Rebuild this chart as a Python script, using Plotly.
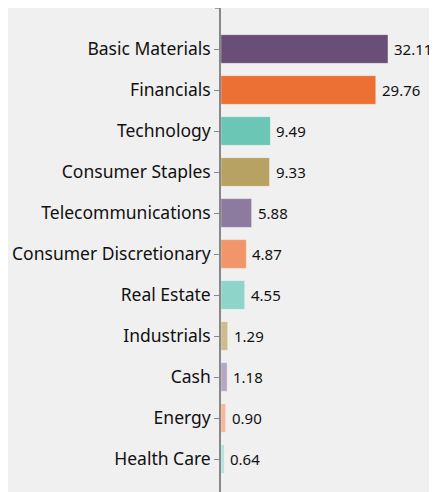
import plotly.graph_objects as go

categories = ["Basic Materials", "Financials", "Technology", "Consumer Staples",
              "Telecommunications", "Consumer Discretionary", "Real Estate",
              "Industrials", "Cash", "Energy", "Health Care"]
values = [32.11, 29.76, 9.49, 9.33, 5.88, 4.87, 4.55, 1.29, 1.18, 0.90, 0.64]
value_labels = ["32.11", "29.76", "9.49", "9.33", "5.88", "4.87", "4.55", "1.29", "1.18", "0.90", "0.64"]
colors = ["#694e78", "#ec7033", "#6cc6b6", "#b8a263", "#8d7a9f", "#f0966a",
          "#8fd4c9", "#cdbc8f", "#b5a7c2", "#f7b79a", "#b4e3dc"]

PLOT_W = 216
FIG_H = 484
fig = go.Figure()
fig.add_trace(go.Bar(
    x=values, y=categories, orientation="h",
    marker=dict(color=colors, line=dict(color="rgba(255,255,255,0.35)", width=1)),
    width=0.7, hoverinfo="skip", cliponaxis=False,
))
for c, v, t in zip(categories, values, value_labels):
    fig.add_annotation(x=v, y=c, text=t, showarrow=False, xanchor="left",
                       xshift=4, font=dict(size=15, color="#111111", family="Noto Sans"))

fig.add_shape(type="line", xref="paper", yref="paper", x0=-6/PLOT_W, x1=0, y0=1, y1=1,
              line=dict(color="#888888", width=1.5))

fig.update_layout(
    width=429, height=FIG_H,
    margin=dict(l=213, r=0, t=0, b=0),
    paper_bgcolor="#f0f0f0", plot_bgcolor="#f0f0f0",
    showlegend=False,
    font=dict(family="Noto Sans", size=17.5, color="#111111"),
    xaxis=dict(range=[0, PLOT_W/5.2], visible=False, fixedrange=True),
    yaxis=dict(type="category", range=[-1 + FIG_H/41, -1], showline=True, linecolor="#888888",
               linewidth=1.5, ticks="outside", ticklen=5, tickcolor="#888888",
               tickwidth=1, showgrid=False, zeroline=False, ticklabelstandoff=0,
               tickfont=dict(size=17.5, color="#111111")),
)
fig.write_html("out.html")
